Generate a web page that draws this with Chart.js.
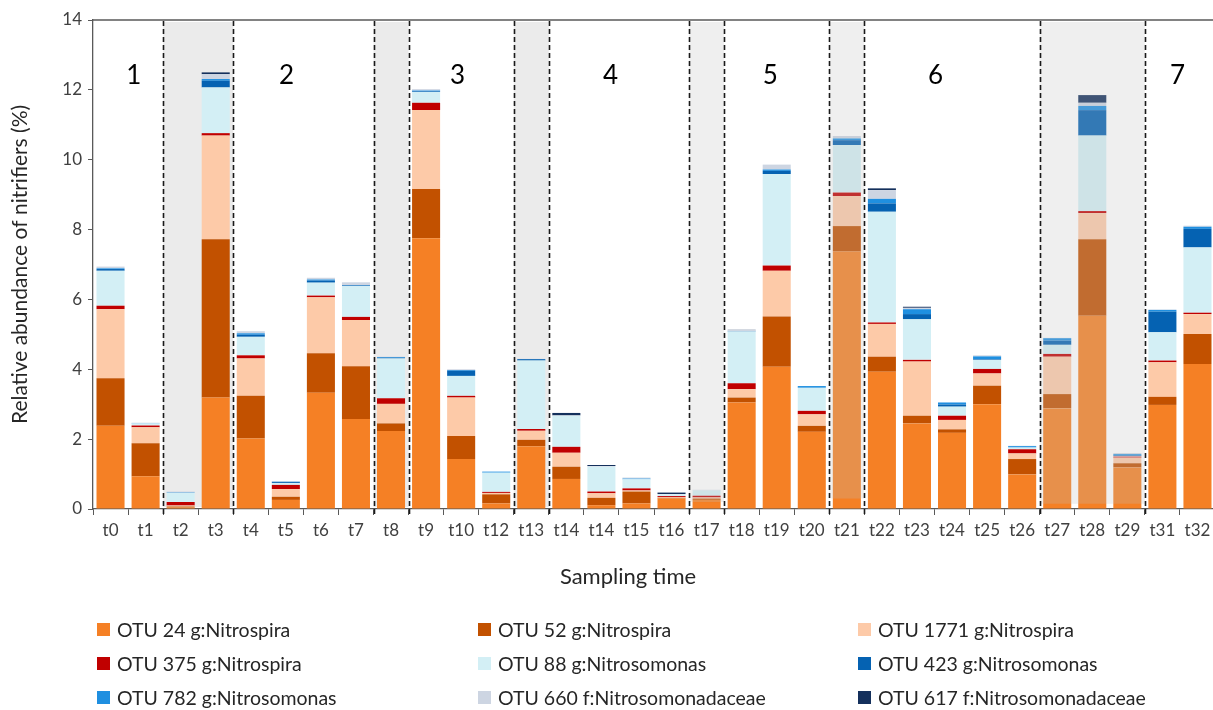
<!DOCTYPE html>
<html>
<head>
<meta charset="utf-8">
<script src="https://cdn.jsdelivr.net/npm/chart.js@4.4.0/dist/chart.umd.min.js"></script>
<style>
    html, body { margin: 0; padding: 0; background: #fff; overflow: hidden; }
    #wrap { position: relative; width: 1220px; height: 710px; }
    #legend { position: absolute; left: 0; top: 0; width: 1213px; height: 710px; font-family: Lato, sans-serif; font-size: 19.5px; color: #262626; }
    .item { position: absolute; display: flex; align-items: center; white-space: nowrap; height: 24px; }
    .sw { width: 13px; height: 13px; margin-right: 7px; }
    #xTitle { position: absolute; left: 628px; top: 575px; transform: translate(-50%, -50%); font-family: Lato, sans-serif; font-size: 22px; color: #262626; white-space: nowrap; }
</style>
</head>
<body>
<div id="wrap">
    <canvas id="nitrifierChart" width="1220" height="600"></canvas>
    <div id="xTitle">Sampling time</div>
    <div id="legend"></div>
</div>
<script>
// --- Data (relative abundance, %) ---
const categories = ['t0', 't1', 't2', 't3', 't4', 't5', 't6', 't7', 't8', 't9', 't10', 't12', 't13', 't14', 't14', 't15',
    't16', 't17', 't18', 't19', 't20', 't21', 't22', 't23', 't24', 't25', 't26', 't27', 't28', 't29', 't31', 't32'];

const otu24 = [2.38, 0.94, 0.04, 3.19, 2.02, 0.26, 3.33, 2.58, 2.23, 7.75, 1.43, 0.16, 1.80, 0.86, 0.11, 0.16,
    0.30, 0.26, 3.05, 4.07, 2.21, 7.37, 3.93, 2.45, 2.18, 3.00, 0.99, 2.88, 5.53, 1.19, 2.98, 4.15];
const otu52 = [1.36, 0.94, 0.03, 4.53, 1.22, 0.09, 1.13, 1.51, 0.22, 1.41, 0.66, 0.26, 0.18, 0.35, 0.21, 0.34,
    0.02, 0.04, 0.14, 1.44, 0.17, 0.73, 0.43, 0.22, 0.10, 0.53, 0.44, 0.41, 2.19, 0.12, 0.23, 0.86];
const otu1771 = [1.98, 0.46, 0.03, 2.97, 1.07, 0.22, 1.60, 1.32, 0.56, 2.26, 1.10, 0.04, 0.26, 0.40, 0.13, 0.03,
    0.02, 0.03, 0.24, 1.31, 0.33, 0.86, 0.94, 1.55, 0.27, 0.35, 0.16, 1.07, 0.75, 0.16, 0.99, 0.57];
const otu375 = [0.10, 0.05, 0.10, 0.07, 0.09, 0.12, 0.05, 0.09, 0.16, 0.21, 0.05, 0.03, 0.05, 0.17, 0.05, 0.06,
    0.03, 0.05, 0.17, 0.15, 0.10, 0.10, 0.04, 0.05, 0.12, 0.13, 0.12, 0.08, 0.06, 0.03, 0.05, 0.04];
const otu88 = [1.00, 0.06, 0.26, 1.31, 0.53, 0.05, 0.37, 0.88, 1.14, 0.31, 0.57, 0.55, 1.96, 0.89, 0.71, 0.26,
    0.05, 0.15, 1.48, 2.62, 0.66, 1.36, 3.17, 1.16, 0.26, 0.26, 0.05, 0.26, 2.16, 0.02, 0.81, 1.87];
const otu423 = [0.05, 0, 0, 0.19, 0.06, 0.03, 0.06, 0.02, 0.02, 0.02, 0.15, 0, 0.04, 0, 0, 0,
    0, 0, 0.01, 0.09, 0, 0.14, 0.24, 0.15, 0.06, 0.02, 0, 0.12, 0.73, 0.02, 0.59, 0.53];
const otu782 = [0.02, 0.01, 0.01, 0.05, 0.04, 0.01, 0.03, 0.01, 0.02, 0.02, 0.02, 0.03, 0, 0, 0, 0.02,
    0, 0, 0, 0.04, 0.05, 0.05, 0.13, 0.14, 0.06, 0.08, 0.04, 0.07, 0.12, 0.03, 0.05, 0.06];
const otu660 = [0.05, 0.01, 0.03, 0.14, 0.06, 0.02, 0.05, 0.08, 0.01, 0.04, 0.02, 0, 0.01, 0.01, 0.02, 0.03,
    0.01, 0.02, 0.03, 0.14, 0, 0.07, 0.25, 0.04, 0, 0.03, 0.01, 0.01, 0.09, 0.03, 0.01, 0.03];
const otu617 = [0, 0, 0, 0.05, 0, 0, 0, 0, 0, 0, 0, 0, 0, 0.07, 0.03, 0,
    0.04, 0, 0.01, 0, 0, 0, 0.05, 0.03, 0, 0, 0, 0, 0.22, 0, 0, 0];

const yTicks = [0, 2, 4, 6, 8, 10, 12, 14];
const periodLabels = ['1', '2', '3', '4', '5', '6', '7'];

// --- Layout of the phases (category index units) ---
const periodPos = [0.66, 5.02, 9.9, 14.26, 18.82, 23.53, 30.43];
const dividers = [2, 4, 8, 9, 12, 13, 17, 18, 21, 22, 27, 30];   // boundary before this index
const shadeBehind = [[2, 4], [8, 9], [12, 13]];
const shadeOver = [[17, 18, 0.2], [21, 22, 0.3], [27, 30, 0.15]];

const series = [
    { label: 'OTU 24 g:Nitrospira', data: otu24, color: '#F58025' },
    { label: 'OTU 52 g:Nitrospira', data: otu52, color: '#C25100' },
    { label: 'OTU 1771 g:Nitrospira', data: otu1771, color: '#FDCAA8' },
    { label: 'OTU 375 g:Nitrospira', data: otu375, color: '#C00000' },
    { label: 'OTU 88 g:Nitrosomonas', data: otu88, color: '#D3EFF5' },
    { label: 'OTU 423 g:Nitrosomonas', data: otu423, color: '#0562B2' },
    { label: 'OTU 782 g:Nitrosomonas', data: otu782, color: '#1F8FE0' },
    { label: 'OTU 660 f:Nitrosomonadaceae', data: otu660, color: '#CDD5E2' },
    { label: 'OTU 617 f:Nitrosomonadaceae', data: otu617, color: '#14305C' }
];

const FONT = 'Lato';
const AXIS = '#595959';

const phasePlugin = {
    id: 'phases',
    beforeDatasetsDraw(chart) {
        const { ctx, chartArea, scales: { x } } = chart;
        ctx.save();
        ctx.fillStyle = '#ebebeb';
        shadeBehind.forEach(([a, b]) => {
            const x0 = x.getPixelForValue(a - 0.5);
            const x1 = x.getPixelForValue(b - 0.5);
            ctx.fillRect(x0, chartArea.top + 2, x1 - x0, chartArea.bottom - chartArea.top - 4);
        });
        ctx.restore();
    },
    afterDatasetsDraw(chart) {
        const { ctx, chartArea, scales: { x, y } } = chart;
        ctx.save();

        // translucent grey over some phases
        ctx.fillStyle = 'rgba(190,190,190,0.25)';
        shadeOver.forEach(([a, b, bottom]) => {
            const x0 = x.getPixelForValue(a - 0.5);
            const x1 = x.getPixelForValue(b - 0.5);
            const yb = y.getPixelForValue(bottom);
            ctx.fillRect(x0, chartArea.top + 2, x1 - x0, yb - chartArea.top - 2);
        });

        // dashed phase dividers
        ctx.strokeStyle = '#1a1a1a';
        ctx.lineWidth = 1.6;
        ctx.setLineDash([5, 3]);
        dividers.forEach(k => {
            const px = Math.round(x.getPixelForValue(k - 0.5)) + 0.5;
            ctx.beginPath();
            ctx.moveTo(px, chartArea.top + 1);
            ctx.lineTo(px, chartArea.bottom + 5);
            ctx.stroke();
        });
        ctx.setLineDash([]);

        // top frame line
        ctx.strokeStyle = AXIS;
        ctx.lineWidth = 1.3;
        ctx.beginPath();
        ctx.moveTo(chartArea.left, chartArea.top);
        ctx.lineTo(chartArea.right, chartArea.top);
        ctx.stroke();

        // phase numbers
        ctx.fillStyle = '#000';
        ctx.font = '26px ' + FONT;
        ctx.textAlign = 'center';
        ctx.textBaseline = 'middle';
        periodLabels.forEach((t, i) => {
            ctx.fillText(t, x.getPixelForValue(periodPos[i]), y.getPixelForValue(12.42));
        });
        ctx.restore();
    }
};

const chart = new Chart(document.getElementById('nitrifierChart'), {
    type: 'bar',
    data: {
        labels: categories,
        datasets: series.map(s => ({
            label: s.label,
            data: s.data,
            backgroundColor: s.color,
            borderWidth: 0,
            categoryPercentage: 1.0,
            barPercentage: 0.8
        }))
    },
    options: {
        responsive: false,
        animation: false,
        layout: { padding: { top: 20, right: 5, left: 0, bottom: 0 } },
        plugins: {
            legend: { display: false },
            tooltip: { enabled: false }
        },
        scales: {
            x: {
                stacked: true,
                afterFit: s => { s.height = 91; },
                grid: { drawOnChartArea: false, drawTicks: true, tickLength: 6, color: AXIS, offset: true },
                border: { color: AXIS, width: 1.3 },
                ticks: { color: '#404040', font: { family: FONT, size: 17 }, padding: 5, maxRotation: 0, autoSkip: false },
                title: { display: false }
            },
            y: {
                stacked: true,
                min: 0,
                max: 14,
                afterFit: s => { s.width = 93; },
                afterBuildTicks: s => { s.ticks = yTicks.map(v => ({ value: v })); },
                grid: { drawOnChartArea: false, drawTicks: true, tickLength: 5, color: AXIS },
                border: { color: AXIS, width: 1.3 },
                ticks: { color: '#404040', font: { family: FONT, size: 17 }, padding: 6 },
                title: { display: true, text: 'Relative abundance of nitrifiers (%)', color: '#262626', font: { family: FONT, size: 21 }, padding: { top: 8 } }
            }
        }
    },
    plugins: [phasePlugin]
});

// --- HTML legend in three columns ---
const legendCols = [97, 478, 858];
const legendRows = [629, 663, 697];
const legendEl = document.getElementById('legend');
chart.data.datasets.forEach((ds, i) => {
    const item = document.createElement('div');
    item.className = 'item';
    item.style.left = legendCols[i % 3] + 'px';
    item.style.top = (legendRows[Math.floor(i / 3)] - 12) + 'px';
    const sw = document.createElement('span');
    sw.className = 'sw';
    sw.style.background = ds.backgroundColor;
    const txt = document.createElement('span');
    txt.textContent = ds.label;
    item.appendChild(sw);
    item.appendChild(txt);
    legendEl.appendChild(item);
});
</script>
</body>
</html>
